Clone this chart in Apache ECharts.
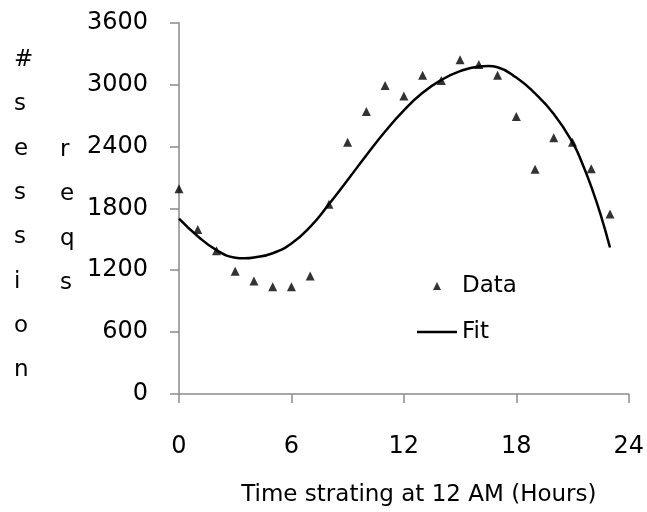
<!DOCTYPE html>
<html>
<head>
<meta charset="utf-8">
<script src="https://cdn.jsdelivr.net/npm/echarts@6/dist/echarts.min.js"></script>
<style>
  html, body { margin: 0; padding: 0; background: #fff; }
  #chart { width: 647px; height: 512px; }
</style>
</head>
<body>
<div id="chart"></div>
<script>
const hours = [0, 1, 2, 3, 4, 5, 6, 7, 8, 9, 10, 11, 12, 13, 14, 15, 16, 17, 18, 19, 20, 21, 22, 23];
const sessionReqs = [1990, 1595, 1390, 1190, 1095, 1040, 1040, 1145, 1840, 2440, 2740, 2990,
  2890, 3090, 3040, 3240, 3195, 3090, 2690, 2180, 2485, 2440, 2185, 1745];
// fit curve, with extra points near the turning points
const fitHours = [0, 1, 2, 3, 3.5, 4, 5, 6, 7, 8, 9, 10, 11, 12, 13, 14, 15, 16, 16.5, 17,
  18, 19, 20, 21, 21.5, 22, 22.5, 23];
const fitValues = [1700, 1530, 1395, 1322, 1315, 1323, 1365, 1460, 1620, 1840, 2075, 2315,
  2545, 2750, 2920, 3045, 3130, 3175, 3180, 3168, 3068, 2915, 2715, 2440, 2245, 2010, 1740, 1420];
const yTitleLeft = ['#', 's', 'e', 's', 's', 'i', 'o', 'n'];
const yTitleRight = ['r', 'e', 'q', 's'];

const font = 'DejaVu Sans';
const axisGray = '#8a8a8a';

const pairs = (xs, ys) => xs.map((x, i) => [x, ys[i]]);

const chart = echarts.init(document.getElementById('chart'));

const option = {
  animation: false,
  backgroundColor: '#fff',
  textStyle: { fontFamily: font, color: '#000' },
  grid: {
    left: 179,
    right: 17,
    top: 22.7,
    bottom: 116,
  },
  legend: {
    orient: 'vertical',
    left: 417,
    top: 274,
    padding: 0,
    itemWidth: 40,
    itemHeight: 8,
    itemGap: 22,
    symbolKeepAspect: true,
    textStyle: { fontFamily: font, fontSize: 23, color: '#000', lineHeight: 24 },
    data: [
      { name: 'Data', icon: 'path://M5,0L10,10L0,10Z', itemStyle: { color: '#000' } },
      { name: 'Fit', icon: 'path://M0,0L40,0L40,2.5L0,2.5Z', itemStyle: { color: '#000' } },
    ],
  },
  xAxis: {
    type: 'value',
    min: 0,
    max: 24,
    interval: 6,
    name: 'Time strating at 12 AM (Hours)',
    nameLocation: 'middle',
    nameGap: 90,
    nameTextStyle: { fontFamily: font, fontSize: 23, color: '#000', padding: [0, 0, 0, 30] },
    axisLine: { lineStyle: { color: axisGray, width: 1.5 } },
    axisTick: { length: 9, lineStyle: { color: axisGray, width: 1.5 } },
    axisLabel: { margin: 41, fontFamily: font, fontSize: 24, color: '#000' },
    splitLine: { show: false },
  },
  yAxis: {
    type: 'value',
    min: 0,
    max: 3600,
    interval: 600,
    axisLine: { show: true, lineStyle: { color: axisGray, width: 1.5 } },
    axisTick: { show: true, length: 9, lineStyle: { color: axisGray, width: 1.5 } },
    axisLabel: {
      margin: 31,
      fontFamily: font,
      fontSize: 24,
      color: '#000',
      formatter: (v) => String(v),
    },
    splitLine: { show: false },
  },
  graphic: [
    {
      type: 'text',
      left: 22 - 8,
      top: 38,
      style: {
        text: yTitleLeft.join('\n'),
        font: `23px "${font}"`,
        fill: '#000',
        lineHeight: 44.3,
        align: 'center',
        width: 16,
      },
    },
    {
      type: 'text',
      left: 68 - 8,
      top: 128,
      style: {
        text: yTitleRight.join('\n'),
        font: `23px "${font}"`,
        fill: '#000',
        lineHeight: 44.3,
        align: 'center',
        width: 16,
      },
    },
  ],
  series: [
    {
      name: 'Data',
      type: 'scatter',
      symbol: 'triangle',
      symbolSize: 9,
      itemStyle: { color: '#000' },
      data: pairs(hours, sessionReqs),
      z: 3,
    },
    {
      name: 'Fit',
      type: 'line',
      symbol: 'none',
      smooth: 0.5,
      lineStyle: { color: '#000', width: 2.5 },
      itemStyle: { color: '#000' },
      data: pairs(fitHours, fitValues),
      z: 2,
    },
  ],
};

chart.setOption(option);
</script>
</body>
</html>
